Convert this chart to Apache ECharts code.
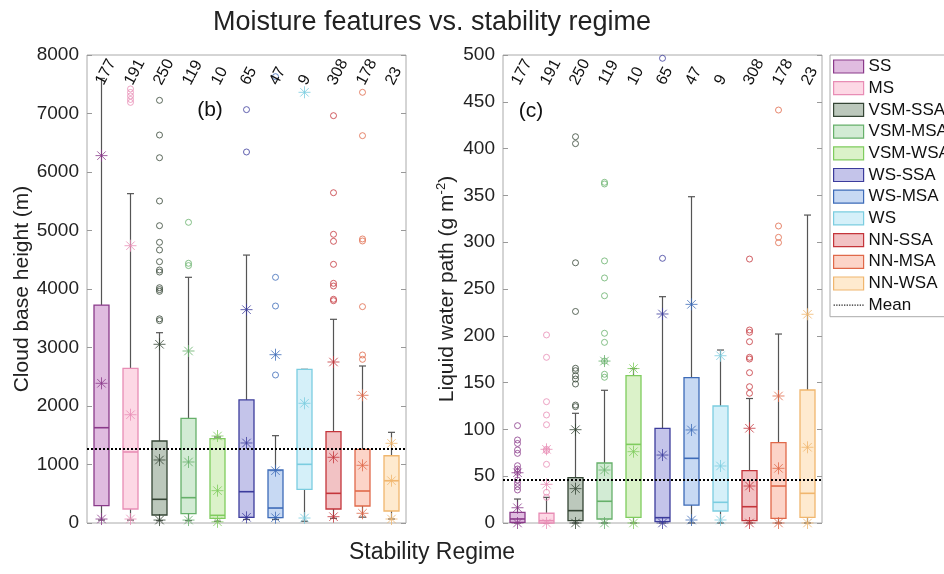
<!DOCTYPE html>
<html>
<head>
<meta charset="utf-8">
<script src="https://cdn.jsdelivr.net/npm/echarts@6/dist/echarts.min.js"></script>
<style>html,body{margin:0;padding:0;background:#fff}#c{width:944px;height:574px}</style>
</head>
<body>
<div id="c"></div>
<script>
// ---------- data ----------
const categories = ['SS','MS','VSM-SSA','VSM-MSA','VSM-WSA','WS-SSA','WS-MSA','WS','NN-SSA','NN-MSA','NN-WSA'];
const counts = [177,191,250,119,10,65,47,9,308,178,23];

// cloud base height (m): [lower whisker, Q1, median, Q3, upper whisker]
const cbhBox = [
  [50, 296, 1629, 3726, 7600],
  [50, 239, 1214, 2644, 5630],
  [40, 137, 405, 1402, 3253],
  [40, 159, 433, 1790, 4200],
  [30, 80, 131, 1441, 1470],
  [60, 97, 535, 2103, 4580],
  [60, 91, 256, 906, 1493],
  [30, 576, 1003, 2627, 2627],
  [80, 239, 507, 1561, 3482],
  [100, 291, 547, 1259, 2684],
  [68, 205, 723, 1150, 1550]
];
// asterisk markers (upper, mean, lower)
const cbhStars = [
  [6280, 2388, 68],
  [4740, 1851, 68],
  [3055, 1077, 50],
  [2940, 1043, 50],
  [1487, 553, 20],
  [3647, 1368, 97],
  [2877, 894, 91],
  [7362, 2046, 85],
  [2752, 1123, 108],
  [2183, 986, 166],
  [1362, 723, 68]
];
const cbhOutliers = [
  [],
  [7190, 7240, 7300, 7360, 7420],
  [7225, 6632, 6244, 5504, 5082, 4798, 4667, 4467, 4325, 4290, 4022, 3990, 3960, 3490, 3460],
  [5140, 4440, 4400],
  [],
  [7066, 6342],
  [7630, 4200, 3709, 2530],
  [],
  [6963, 5646, 4935, 4815, 4422, 4097, 4051, 3824, 3800],
  [7362, 6621, 4855, 4821, 3698, 2872, 2798],
  []
];
const cbhMean = 1277;

// liquid water path (g m-2)
const lwpBox = [
  [0, 0.7, 4.3, 11.4, 25.6],
  [0, 0, 2.5, 10.4, 27.4],
  [0, 2.5, 13.2, 48.4, 117.2],
  [0, 4.3, 23.2, 64.1, 141.8],
  [0, 6.1, 84, 157.4, 165],
  [0, 1.4, 5.7, 101.2, 241.8],
  [0, 19.2, 69.1, 155.3, 348.6],
  [0, 12.8, 22.1, 125, 184.8],
  [0, 2.5, 17.4, 55.9, 133],
  [0, 5, 39.5, 85.8, 201.9],
  [0, 6.1, 31.7, 142.1, 329]
];
const lwpStars = [
  [53.7, 16.3, 0],
  [78.7, 41.3, 0],
  [99.7, 36.7, 0],
  [173, 56.6, 0],
  [165, 76.2, 0],
  [223.3, 72.6, 0],
  [233.6, 99.4, 3.2],
  [178.7, 60.9, 3.2],
  [101.2, 39.5, 0],
  [135.7, 58.4, 0],
  [223, 80.9, 0]
];
const lwpOutliers = [
  [104, 88.7, 85, 78, 74.4, 61.2, 57.7, 54.2, 45.9, 42.4, 38.8, 35.3],
  [200.9, 177, 129.6, 115.4, 105, 78.7, 77.3, 62.7, 32.8, 27.4],
  [412.7, 405.3, 278, 226, 165.3, 162.7, 157.4, 153.8, 148.5, 126, 124.3],
  [364, 362.2, 280, 261.8, 242.8, 202.7, 193, 173, 158.9, 155.7],
  [],
  [496.5, 282.8],
  [],
  [],
  [282, 206.2, 203.7, 193.7, 177, 175.2, 160.6, 145.6, 138.6],
  [441.2, 317.3, 305.2, 299.5],
  []
];
const lwpMean = 46.7;

// ---------- styles ----------
const fills = ['#e0bce0','#fdd8e5','#bcc8bc','#d2ebd4','#dbf2c9','#c4c4ea','#c7d9f3','#d5f0f9','#f2c2c4','#fcd4c8','#feeacf'];
const edges = ['#8a3a8a','#e88db5','#354535','#66b06a','#7fcc5e','#3c3c9c','#3d6bb8','#7bcde0','#c4353b','#e0694a','#f0b66e'];
const FONT = 'Liberation Sans, Arial, Helvetica, sans-serif';
const STAR = 'path://M0,-10L0,10M-10,0L10,0M-7.07,-7.07L7.07,7.07M-7.07,7.07L7.07,-7.07';
const DOTS = 'path://M0,0h2v2h-2zM4,0h2v2h-2zM8,0h2v2h-2zM12,0h2v2h-2zM16,0h2v2h-2zM20,0h2v2h-2zM24,0h2v2h-2zM28,0h2v2h-2zM32,0h2v2h-2zM36,0h2v2h-2zM40,0h2v2h-2zM44,0h2v2h-2z';

function boxRender(ci) {
  return function (params, api) {
    const i = api.value(0);
    const lo = api.coord([i, api.value(1)]);
    const q1 = api.coord([i, api.value(2)]);
    const md = api.coord([i, api.value(3)]);
    const q3 = api.coord([i, api.value(4)]);
    const hi = api.coord([i, api.value(5)]);
    const x = lo[0], hw = 7.5, cw = 3.5;
    const ws = { stroke: '#555', lineWidth: 1.2 };
    return { type: 'group', children: [
      { type: 'line', shape: { x1: x, y1: q3[1], x2: x, y2: hi[1] }, style: ws },
      { type: 'line', shape: { x1: x - cw, y1: hi[1], x2: x + cw, y2: hi[1] }, style: ws },
      { type: 'line', shape: { x1: x, y1: q1[1], x2: x, y2: lo[1] }, style: ws },
      { type: 'line', shape: { x1: x - cw, y1: lo[1], x2: x + cw, y2: lo[1] }, style: ws },
      { type: 'rect', shape: { x: x - hw, y: q3[1], width: 2 * hw, height: q1[1] - q3[1] },
        style: { fill: fills[ci], stroke: edges[ci], lineWidth: 1.3 } },
      { type: 'line', shape: { x1: x - hw, y1: md[1], x2: x + hw, y2: md[1] },
        style: { stroke: edges[ci], lineWidth: 1.6 } }
    ]};
  };
}

function countRender(maxVal) {
  return function (params, api) {
    const i = api.value(0);
    const p = api.coord([i, maxVal]);
    return { type: 'text', x: p[0] - 2, y: p[1] + 29, rotation: 62 * Math.PI / 180,
      style: { text: String(api.value(1)), fill: '#111', font: '16px ' + FONT, align: 'left', verticalAlign: 'middle' } };
  };
}

const grids = [
  { left: 87, top: 55, width: 319, height: 468, show: true, borderColor: '#aaa', borderWidth: 1, backgroundColor: '#fff' },
  { left: 503, top: 55, width: 319, height: 468, show: true, borderColor: '#aaa', borderWidth: 1, backgroundColor: '#fff' }
];
const xAxes = [0, 1].map(g => ({
  type: 'category', gridIndex: g, data: categories, boundaryGap: true,
  axisLine: { show: false }, axisTick: { show: false }, axisLabel: { show: false }, splitLine: { show: false }
}));
const axisLabelStyle = { color: '#222', fontSize: 19, fontFamily: FONT, margin: 8, formatter: v => String(v) };
const yAxes = [
  { type: 'value', gridIndex: 0, min: 0, max: 8000, interval: 1000, position: 'left',
    name: 'Cloud base height (m)', nameLocation: 'middle', nameGap: 54,
    nameTextStyle: { fontSize: 21, color: '#222', fontFamily: FONT },
    axisLine: { show: false }, axisTick: { show: true, inside: true, length: 5, lineStyle: { color: '#999' } },
    axisLabel: axisLabelStyle, splitLine: { show: false } },
  { type: 'value', gridIndex: 0, min: 0, max: 8000, interval: 1000, position: 'right',
    axisLine: { show: false }, axisTick: { show: true, inside: true, length: 5, lineStyle: { color: '#999' } },
    axisLabel: { show: false }, splitLine: { show: false } },
  { type: 'value', gridIndex: 1, min: 0, max: 500, interval: 50, position: 'left',
    name: 'Liquid water path (g m{sup|-2})', nameLocation: 'middle', nameGap: 40,
    nameTextStyle: { fontSize: 21, color: '#222', fontFamily: FONT, lineHeight: 24,
      rich: { sup: { fontSize: 13, lineHeight: 13, verticalAlign: 'top', color: '#222', fontFamily: FONT } } },
    axisLine: { show: false }, axisTick: { show: true, inside: true, length: 5, lineStyle: { color: '#999' } },
    axisLabel: axisLabelStyle, splitLine: { show: false } },
  { type: 'value', gridIndex: 1, min: 0, max: 500, interval: 50, position: 'right',
    axisLine: { show: false }, axisTick: { show: true, inside: true, length: 5, lineStyle: { color: '#999' } },
    axisLabel: { show: false }, splitLine: { show: false } }
];

const series = [];
const panels = [
  { box: cbhBox, stars: cbhStars, outl: cbhOutliers, mean: cbhMean, max: 8000 },
  { box: lwpBox, stars: lwpStars, outl: lwpOutliers, mean: lwpMean, max: 500 }
];
panels.forEach((P, g) => {
  const xi = g, yi = g * 2;
  categories.forEach((name, i) => {
    series.push({ type: 'custom', name: name, xAxisIndex: xi, yAxisIndex: yi, z: 2,
      renderItem: boxRender(i), data: [[i].concat(P.box[i])], silent: true });
  });
  const od = [];
  P.outl.forEach((arr, i) => arr.forEach(v => od.push({ value: [i, v], itemStyle: { borderColor: edges[i] } })));
  series.push({ type: 'scatter', name: 'outliers' + g, xAxisIndex: xi, yAxisIndex: yi, z: 4,
    symbol: 'circle', symbolSize: 6, clip: false,
    itemStyle: { color: 'rgba(0,0,0,0)', borderWidth: 1 }, data: od, silent: true });
  const sd = [];
  P.stars.forEach((arr, i) => arr.forEach(v => sd.push({ value: [i, v], itemStyle: { borderColor: edges[i] } })));
  series.push({ type: 'scatter', name: 'stars' + g, xAxisIndex: xi, yAxisIndex: yi, z: 5,
    symbol: STAR, symbolSize: 12, clip: false,
    itemStyle: { color: 'rgba(0,0,0,0)', borderWidth: 1 }, data: sd, silent: true });
  series.push({ type: 'custom', name: 'counts' + g, xAxisIndex: xi, yAxisIndex: yi, z: 6,
    renderItem: countRender(P.max), data: counts.map((c, i) => [i, c]), silent: true, clip: false });
  series.push({ type: 'line', name: 'Mean', xAxisIndex: xi, yAxisIndex: yi, symbol: 'none', data: [],
    itemStyle: { color: '#000' },
    lineStyle: { color: '#000', width: 1.5, type: [2, 2] },
    markLine: { silent: true, symbol: 'none', label: { show: false }, z: 7,
      lineStyle: { color: '#000', width: 2, type: [2, 2] }, data: [{ yAxis: P.mean }] } });
});

const legendData = categories.map((n, i) => ({ name: n, icon: 'rect',
  itemStyle: { color: fills[i], borderColor: edges[i], borderWidth: 1.2 } }));
legendData.push({ name: 'Mean', icon: DOTS, itemStyle: { color: '#222', borderWidth: 0 } });

const option = {
  animation: false,
  backgroundColor: '#fff',
  grid: grids, xAxis: xAxes, yAxis: yAxes, series: series,
  legend: { data: legendData, orient: 'vertical', left: 830, top: 55, padding: [3, 4, 3, 3],
    itemWidth: 30, itemHeight: 13, itemGap: 4.7, borderColor: '#aaa', borderWidth: 1, backgroundColor: '#fff',
    selectedMode: false,
    textStyle: { fontSize: 17, color: '#111', fontFamily: FONT, lineHeight: 17 } },
  graphic: [
    { type: 'text', x: 432, y: 23, style: { text: 'Moisture features vs. stability regime', font: '27px ' + FONT, fill: '#222', align: 'center', verticalAlign: 'middle' } },
    { type: 'text', x: 432, y: 553, style: { text: 'Stability Regime', font: '23px ' + FONT, fill: '#222', align: 'center', verticalAlign: 'middle' } },
    { type: 'text', x: 210, y: 110, style: { text: '(b)', font: '21px ' + FONT, fill: '#111', align: 'center', verticalAlign: 'middle' } },
    { type: 'text', x: 531, y: 111, style: { text: '(c)', font: '21px ' + FONT, fill: '#111', align: 'center', verticalAlign: 'middle' } }
  ]
};
const chart = echarts.init(document.getElementById('c'), null, { renderer: 'canvas' });
chart.setOption(option);
</script>
</body>
</html>
